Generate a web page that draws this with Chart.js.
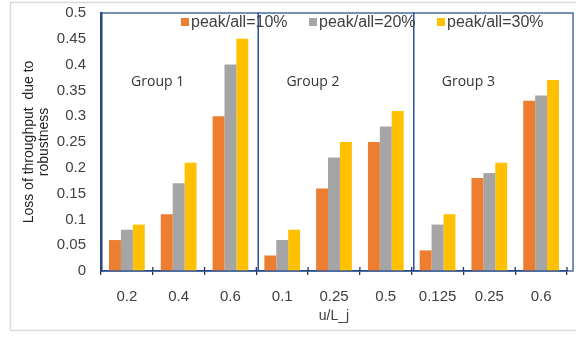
<!DOCTYPE html>
<html>
<head>
<meta charset="utf-8">
<script src="https://cdn.jsdelivr.net/npm/chart.js@4.4.0/dist/chart.umd.min.js"></script>
<style>
    html, body { margin: 0; padding: 0; background: #fff; }
    #wrap { width: 576px; height: 339px; }
</style>
</head>
<body>
<div id="wrap"><canvas id="chart" width="576" height="339"></canvas></div>
<script>
// Data
const categories = ['0.2', '0.4', '0.6', '0.1', '0.25', '0.5', '0.125', '0.25', '0.6'];
const groupNames = ['Group 1', 'Group 2', 'Group 3'];
const seriesNames = ['peak/all=10%', 'peak/all=20%', 'peak/all=30%'];
const peak10 = [0.06, 0.11, 0.30, 0.03, 0.16, 0.25, 0.04, 0.18, 0.33];
const peak20 = [0.08, 0.17, 0.40, 0.06, 0.22, 0.28, 0.09, 0.19, 0.34];
const peak30 = [0.09, 0.21, 0.45, 0.08, 0.25, 0.31, 0.11, 0.21, 0.37];
const yTickLabels = ['0', '0.05', '0.1', '0.15', '0.2', '0.25', '0.3', '0.35', '0.4', '0.45', '0.5'];

const colors = ['#ED7D31', '#A5A5A5', '#FFC000'];
const boxColor = '#2F5597';

// Outer frame, group boxes, group labels and the legend
const decorPlugin = {
    id: 'decor',
    beforeDraw(chart) {
        const ctx = chart.ctx;
        ctx.save();
        ctx.strokeStyle = '#d9d9d9';
        ctx.lineWidth = 1.5;
        ctx.strokeRect(10.5, 2.5, 600, 328);
        ctx.restore();
    },
    afterDatasetsDraw(chart) {
        const ctx = chart.ctx;
        const area = chart.chartArea;
        const x = chart.scales.x;
        const edges = [area.left];
        for (let g = 1; g < groupNames.length; g++) {
            const i = g * 3;
            edges.push((x.getPixelForTick(i - 1) + x.getPixelForTick(i)) / 2 + 2);
        }
        edges.push(area.right + 6);

        ctx.save();
        ctx.strokeStyle = boxColor;
        ctx.lineWidth = 1.3;
        for (let g = 0; g < groupNames.length; g++) {
            ctx.strokeRect(edges[g], area.top, edges[g + 1] - edges[g], area.bottom - area.top);
        }

        // short tick marks above the x axis too
        ctx.strokeStyle = '#1F3864';
        ctx.beginPath();
        for (let i = 0; i <= categories.length; i++) {
            const px = i < categories.length
                ? x.getPixelForTick(i) - (x.getPixelForTick(1) - x.getPixelForTick(0)) / 2
                : area.right;
            ctx.moveTo(px, area.bottom);
            ctx.lineTo(px, area.bottom - 4);
        }
        ctx.stroke();

        // group labels
        ctx.fillStyle = '#333';
        ctx.font = '14px "Open Sans"';
        ctx.textAlign = 'center';
        ctx.textBaseline = 'middle';
        groupNames.forEach((name, g) => {
            ctx.fillText(name, x.getPixelForTick(g * 3 + 1) - 21, 82);
        });

        // legend
        ctx.font = '16px "Liberation Sans", Arial, sans-serif';
        ctx.textAlign = 'left';
        const legendX = [181, 309, 437];
        seriesNames.forEach((name, s) => {
            ctx.fillStyle = colors[s];
            ctx.fillRect(legendX[s], 18, 8, 8);
            ctx.fillStyle = '#404040';
            ctx.fillText(name, legendX[s] + 10, 23);
        });
        ctx.restore();
    }
};

new Chart(document.getElementById('chart'), {
    type: 'bar',
    data: {
        labels: categories,
        datasets: [
            { label: seriesNames[0], data: peak10, backgroundColor: colors[0] },
            { label: seriesNames[1], data: peak20, backgroundColor: colors[1] },
            { label: seriesNames[2], data: peak30, backgroundColor: colors[2] }
        ]
    },
    options: {
        responsive: false,
        animation: false,
        layout: { padding: { left: 22, right: 9, top: 12, bottom: 0 } },
        datasets: {
            bar: { barPercentage: 1.0, categoryPercentage: 0.69 }
        },
        plugins: {
            legend: { display: false },
            tooltip: { enabled: false }
        },
        scales: {
            x: {
                grid: {
                    display: true,
                    drawOnChartArea: false,
                    offset: true,
                    tickLength: 4,
                    color: '#1F3864',
                    lineWidth: 1.3
                },
                border: { color: '#1F3864', width: 1.5 },
                ticks: {
                    color: '#404040',
                    font: { family: '"Liberation Sans", Arial, sans-serif', size: 15 },
                    padding: 13,
                    maxRotation: 0
                },
                title: {
                    display: true,
                    text: 'u/L_j',
                    color: '#404040',
                    font: { family: '"Liberation Sans", Arial, sans-serif', size: 14 },
                    padding: { top: 4, bottom: 14 }
                },
                afterFit(scale) { scale.height = 68; }
            },
            y: {
                min: 0,
                max: 0.5,
                grid: { display: false },
                border: { color: '#1F3864', width: 2.5 },
                ticks: {
                    stepSize: 0.05,
                    color: '#404040',
                    font: { family: '"Liberation Sans", Arial, sans-serif', size: 15, lineHeight: 0.8 },
                    padding: 7,
                    callback: (v, i) => yTickLabels[i]
                },
                title: {
                    display: true,
                    text: ['Loss of throughput  due to', 'robustness'],
                    color: '#222',
                    font: { family: '"Liberation Sans", Arial, sans-serif', size: 14, lineHeight: 1.05 },
                    padding: { top: 0, bottom: 0 }
                },
                afterFit(scale) { scale.width = 79; }
            }
        }
    },
    plugins: [decorPlugin]
});
</script>
</body>
</html>
